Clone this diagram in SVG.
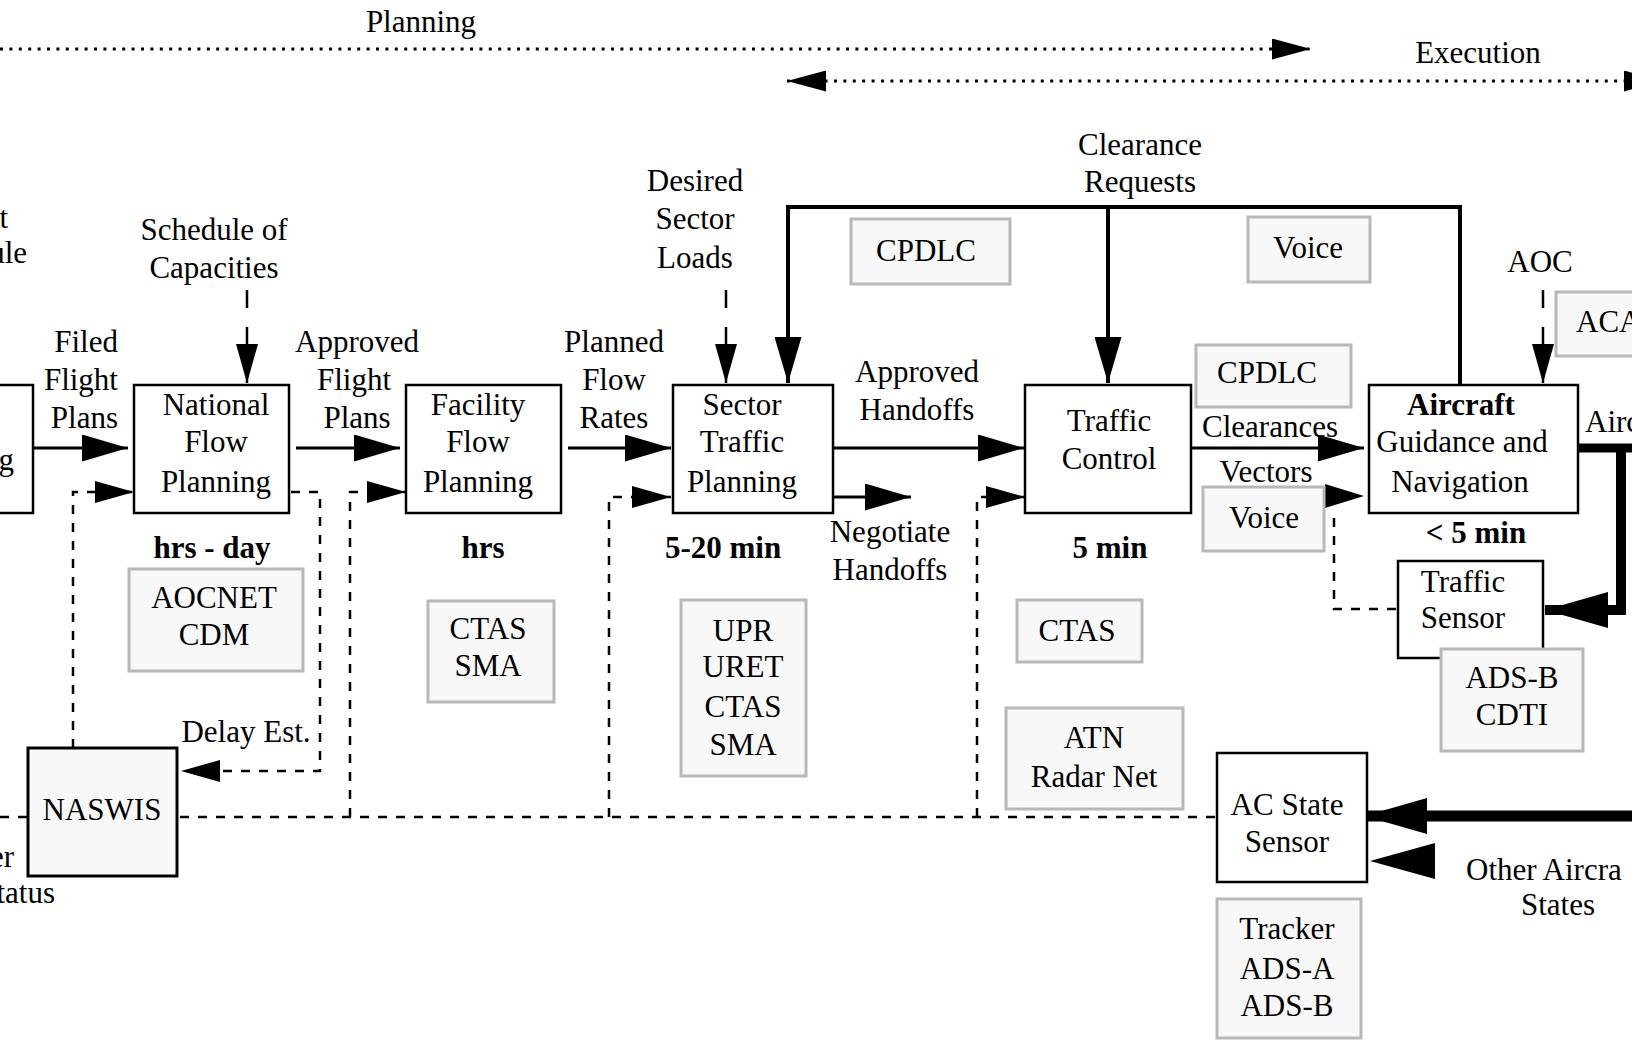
<svg xmlns="http://www.w3.org/2000/svg" width="1632" height="1040" viewBox="0 0 1632 1040">
<style>
text{font-family:"Liberation Serif","Times New Roman",serif;font-size:31px;fill:#000;text-anchor:middle}
.b{font-weight:bold}
.s{text-anchor:start}
.e{text-anchor:end}
.node{fill:#fff;stroke:#000;stroke-width:2.5}
.sys{fill:#f8f8f8;stroke:#b8b8b8;stroke-width:3}
.solid{fill:none;stroke:#000;stroke-width:3}
.dash{fill:none;stroke:#000;stroke-width:2.5;stroke-dasharray:9 9}
.dot{fill:none;stroke:#000;stroke-width:3;stroke-dasharray:3 6.4}
.thick{fill:none;stroke:#000}
.head{fill:#000}
</style>
<defs>
<marker id="arr" markerUnits="userSpaceOnUse" markerWidth="46" markerHeight="27" refX="46" refY="13.5" orient="auto"><path d="M0,0 L46,13.5 L0,27 z" fill="#000"/></marker>
<marker id="arrd" markerUnits="userSpaceOnUse" markerWidth="39" markerHeight="22" refX="39" refY="11" orient="auto"><path d="M0,0 L39,11 L0,22 z" fill="#000"/></marker>
<marker id="arrt" markerUnits="userSpaceOnUse" markerWidth="63" markerHeight="36" refX="63" refY="18" orient="auto"><path d="M0,0 L63,18 L0,36 z" fill="#000"/></marker>
<marker id="arrp" markerUnits="userSpaceOnUse" markerWidth="39" markerHeight="21" refX="39" refY="10.5" orient="auto-start-reverse"><path d="M0,0 L39,10.5 L0,21 z" fill="#000"/></marker>
</defs>

<g id="phases">
<text x="421" y="32">Planning</text>
<path class="dot" d="M0,49 H1311" marker-end="url(#arrp)"/>
<text x="1478" y="63">Execution</text>
<path class="dot" d="M787,81 H1663" marker-start="url(#arrp)" marker-end="url(#arrp)"/>
</g>

<g id="connectors">
<!-- solid flow -->
<path class="solid" d="M33,448 H128" marker-end="url(#arr)"/>
<path class="solid" d="M296,448 H400" marker-end="url(#arr)"/>
<path class="solid" d="M568,448 H671" marker-end="url(#arr)"/>
<path class="solid" d="M833,448 H1024" marker-end="url(#arr)"/>
<path class="solid" d="M833,497 H911" marker-end="url(#arr)"/>
<path class="solid" d="M1191,448 H1364" marker-end="url(#arr)"/>
<polygon class="head" points="1325,484 1364,496 1325,508"/>
<!-- clearance requests -->
<path class="solid" style="stroke-width:4" d="M1460,385 V207 H788 V383" marker-end="url(#arr)"/>
<path class="solid" style="stroke-width:4" d="M1108,207 V383" marker-end="url(#arr)"/>
<!-- dashed inputs -->
<path class="solid" style="stroke-width:2.5" d="M247,290 V308 M726,290 V308 M1543,290 V308"/>
<path class="solid" style="stroke-width:2.5" d="M247,327 V383" marker-end="url(#arrd)"/>
<path class="solid" style="stroke-width:2.5" d="M726,327 V383" marker-end="url(#arrd)"/>
<path class="solid" style="stroke-width:2.5" d="M1543,327 V383" marker-end="url(#arrd)"/>
<!-- dashed feedback -->
<path class="dash" d="M0,817 H1217"/>
<path class="dash" d="M73,748 V492 H134" marker-end="url(#arrd)"/>
<path class="dash" d="M291,492 H320 V771 H181" marker-end="url(#arrd)"/>
<path class="dash" d="M350,817 V492 H406" marker-end="url(#arrd)"/>
<path class="dash" d="M609,817 V497 H671" marker-end="url(#arrd)"/>
<path class="dash" d="M977,817 V497 H1025" marker-end="url(#arrd)"/>
<path class="dash" d="M1334,518 V609 H1398"/>
<!-- thick aircraft state -->
<path class="thick" style="stroke-width:9" d="M1574,448 H1632"/>
<path class="thick" style="stroke-width:10" d="M1621,448 V610 H1545" marker-end="url(#arrt)"/>
<path class="thick" style="stroke-width:11" d="M1632,816 H1364" marker-end="url(#arrt)"/>
<polygon class="head" points="1435,843 1370,861 1435,879"/>
<!-- connector labels -->
<text class="e" x="8" y="228">t</text>
<text class="e" x="27" y="263">ule</text>
<text class="e" x="118" y="352">Filed</text>
<text class="e" x="118" y="390">Flight</text>
<text class="e" x="118" y="428">Plans</text>
<text x="214" y="240">Schedule of</text>
<text x="214" y="278">Capacities</text>
<text x="357" y="352">Approved</text>
<text x="354" y="390">Flight</text>
<text x="357" y="428">Plans</text>
<text x="614" y="352">Planned</text>
<text x="614" y="390">Flow</text>
<text x="614" y="428">Rates</text>
<text x="695" y="191">Desired</text>
<text x="695" y="229">Sector</text>
<text x="695" y="268">Loads</text>
<text x="917" y="382">Approved</text>
<text x="917" y="420">Handoffs</text>
<text x="890" y="542">Negotiate</text>
<text x="890" y="580">Handoffs</text>
<text x="1140" y="155">Clearance</text>
<text x="1140" y="192">Requests</text>
<text x="1540" y="272">AOC</text>
<text x="1270" y="437">Clearances</text>
<text x="1266" y="482">Vectors</text>
<text class="s" x="1585" y="432">Airc</text>
<text x="246" y="742">Delay Est.</text>
<text class="e" x="14" y="867">er</text>
<text class="e" x="55" y="903">tatus</text>
<text class="s" x="1466" y="880">Other Aircra</text>
<text x="1558" y="915">States</text>
</g>

<g id="n-left"><rect class="node" x="-10" y="385" width="43" height="128"/><text class="e" x="14" y="470">g</text></g>
<g id="n-nfp"><rect class="node" x="134" y="385" width="155" height="128"/><text x="216" y="415">National</text><text x="216" y="452">Flow</text><text x="216" y="492">Planning</text><text class="b" x="212" y="558">hrs - day</text></g>
<g id="n-ffp"><rect class="node" x="406" y="385" width="155" height="128"/><text x="478" y="415">Facility</text><text x="478" y="452">Flow</text><text x="478" y="492">Planning</text><text class="b" x="483" y="558">hrs</text></g>
<g id="n-stp"><rect class="node" x="673" y="385" width="160" height="128"/><text x="742" y="415">Sector</text><text x="742" y="452">Traffic</text><text x="742" y="492">Planning</text><text class="b" x="723" y="558">5-20 min</text></g>
<g id="n-tc"><rect class="node" x="1025" y="385" width="166" height="128"/><text x="1109" y="431">Traffic</text><text x="1109" y="469">Control</text><text class="b" x="1110" y="558">5 min</text></g>
<g id="n-ac"><rect class="node" x="1369" y="385" width="209" height="128"/><text class="b" x="1461" y="415">Aircraft</text><text x="1462" y="452">Guidance and</text><text x="1460" y="492">Navigation</text><text class="b" x="1476" y="543">&lt; 5 min</text></g>
<g id="n-ts"><rect class="node" x="1398" y="561" width="145" height="97"/><text x="1463" y="592">Traffic</text><text x="1463" y="628">Sensor</text></g>
<g id="n-acs"><rect class="node" x="1217" y="753" width="150" height="129"/><text x="1287" y="815">AC State</text><text x="1287" y="852">Sensor</text></g>
<g id="n-naswis"><rect x="28" y="748" width="149" height="128" fill="#f8f8f8" stroke="#000" stroke-width="3"/><text x="102" y="820">NASWIS</text></g>

<g id="s-aocnet"><rect class="sys" x="129" y="569" width="174" height="102"/><text x="214" y="608">AOCNET</text><text x="214" y="645">CDM</text></g>
<g id="s-ctas-sma"><rect class="sys" x="428" y="601" width="126" height="101"/><text x="488" y="639">CTAS</text><text x="488" y="676">SMA</text></g>
<g id="s-upr"><rect class="sys" x="681" y="600" width="125" height="176"/><text x="743" y="641">UPR</text><text x="743" y="677">URET</text><text x="743" y="717">CTAS</text><text x="743" y="755">SMA</text></g>
<g id="s-ctas"><rect class="sys" x="1017" y="600" width="125" height="62"/><text x="1077" y="641">CTAS</text></g>
<g id="s-atn"><rect class="sys" x="1006" y="708" width="177" height="101"/><text x="1094" y="748">ATN</text><text x="1094" y="787">Radar Net</text></g>
<g id="s-cpdlc1"><rect class="sys" x="851" y="219" width="159" height="65"/><text x="926" y="261">CPDLC</text></g>
<g id="s-voice1"><rect class="sys" x="1248" y="217" width="122" height="65"/><text x="1308" y="258">Voice</text></g>
<g id="s-cpdlc2"><rect class="sys" x="1196" y="345" width="155" height="62"/><text x="1267" y="383">CPDLC</text></g>
<g id="s-voice2"><rect class="sys" x="1203" y="487" width="121" height="64"/><text x="1264" y="528">Voice</text></g>
<g id="s-aca"><rect class="sys" x="1556" y="292" width="90" height="64"/><text class="s" x="1576" y="332">ACA</text></g>
<g id="s-adsb"><rect class="sys" x="1441" y="649" width="142" height="102"/><text x="1512" y="688">ADS-B</text><text x="1512" y="725">CDTI</text></g>
<g id="s-tracker"><rect class="sys" x="1217" y="899" width="144" height="139"/><text x="1287" y="939">Tracker</text><text x="1287" y="979">ADS-A</text><text x="1287" y="1016">ADS-B</text></g>
</svg>
